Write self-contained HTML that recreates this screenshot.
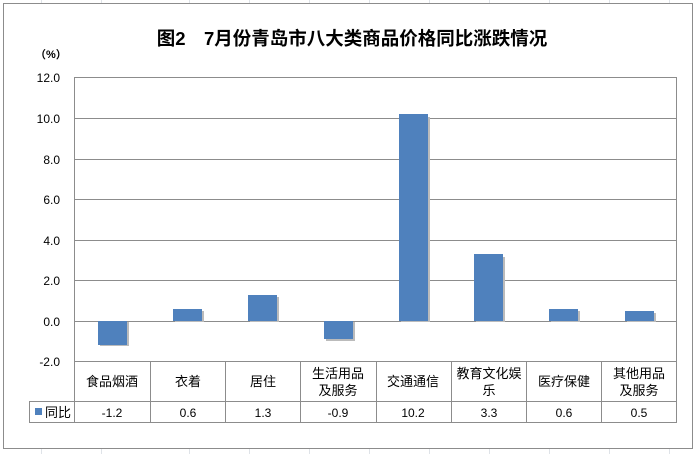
<!DOCTYPE html>
<html><head><meta charset="utf-8"><style>
html,body{margin:0;padding:0;background:#fff;}
svg{display:block;font-family:"Liberation Sans","Noto Sans CJK SC",sans-serif;}
</style></head><body>
<svg width="697" height="454" viewBox="0 0 697 454" xmlns="http://www.w3.org/2000/svg">
<g stroke="#dfe3e8" stroke-width="1">
<line x1="41.5" y1="0" x2="41.5" y2="454"/><line x1="101.5" y1="0" x2="101.5" y2="454"/><line x1="189.5" y1="0" x2="189.5" y2="454"/><line x1="249.5" y1="0" x2="249.5" y2="454"/><line x1="309.5" y1="0" x2="309.5" y2="454"/><line x1="369.5" y1="0" x2="369.5" y2="454"/><line x1="429.5" y1="0" x2="429.5" y2="454"/><line x1="489.5" y1="0" x2="489.5" y2="454"/><line x1="549.5" y1="0" x2="549.5" y2="454"/><line x1="609.5" y1="0" x2="609.5" y2="454"/><line x1="669.5" y1="0" x2="669.5" y2="454"/>
</g>
<rect x="3.5" y="3.5" width="689" height="445" fill="#fff" stroke="#8c8c8c" stroke-width="1"/>
<text x="352" y="45" text-anchor="middle" font-size="18.5" font-weight="bold" fill="#000">图2　7月份青岛市八大类商品价格同比涨跌情况</text>
<text x="35" y="58" font-size="11" font-weight="bold" fill="#000">（%）</text>
<g stroke="#8c8c8c" stroke-width="1" fill="none">
<rect x="74.5" y="77.5" width="602" height="284"/>
<line x1="74" y1="118.5" x2="677" y2="118.5"/>
<line x1="74" y1="159.5" x2="677" y2="159.5"/>
<line x1="74" y1="199.5" x2="677" y2="199.5"/>
<line x1="74" y1="240.5" x2="677" y2="240.5"/>
<line x1="74" y1="280.5" x2="677" y2="280.5"/>
<line x1="74" y1="321.5" x2="677" y2="321.5"/>
<rect x="29.5" y="401.5" width="647" height="21"/>
<line x1="74.5" y1="362" x2="74.5" y2="422"/>
<line x1="150.5" y1="362" x2="150.5" y2="422"/>
<line x1="225.5" y1="362" x2="225.5" y2="422"/>
<line x1="300.5" y1="362" x2="300.5" y2="422"/>
<line x1="376.5" y1="362" x2="376.5" y2="422"/>
<line x1="451.5" y1="362" x2="451.5" y2="422"/>
<line x1="526.5" y1="362" x2="526.5" y2="422"/>
<line x1="601.5" y1="362" x2="601.5" y2="422"/>
<line x1="676.5" y1="362" x2="676.5" y2="422"/>
</g>
<g font-size="12" fill="#000" text-anchor="end">
<text x="60" y="82">12.0</text><text x="60" y="123">10.0</text><text x="60" y="164">8.0</text><text x="60" y="204">6.0</text><text x="60" y="245">4.0</text><text x="60" y="285">2.0</text><text x="60" y="326">0.0</text><text x="60" y="366">-2.0</text>
</g>
<g fill="#bbb">
<rect x="100" y="322" width="29" height="24"/><rect x="175" y="311" width="29" height="11"/><rect x="250" y="297" width="29" height="25"/><rect x="326" y="322" width="29" height="19"/><rect x="401" y="117" width="29" height="205"/><rect x="476" y="257" width="29" height="65"/><rect x="551" y="311" width="29" height="11"/><rect x="627" y="313" width="29" height="9"/>
</g>
<g fill="#4f81bd">
<rect x="98" y="321" width="29" height="24"/>
<rect x="173" y="309" width="29" height="12"/>
<rect x="248" y="295" width="29" height="26"/>
<rect x="324" y="321" width="29" height="18"/>
<rect x="399" y="114" width="29" height="207"/>
<rect x="474" y="254" width="29" height="67"/>
<rect x="549" y="309" width="29" height="12"/>
<rect x="625" y="311" width="29" height="10"/>
</g>
<g font-size="13" fill="#000" text-anchor="middle">
<text x="112" y="386">食品烟酒</text>
<text x="188" y="386">衣着</text>
<text x="263" y="386">居住</text>
<text x="338" y="378">生活用品</text><text x="338" y="395">及服务</text>
<text x="413" y="386">交通通信</text>
<text x="489" y="378">教育文化娱</text><text x="489" y="395">乐</text>
<text x="564" y="386">医疗保健</text>
<text x="639" y="378">其他用品</text><text x="639" y="395">及服务</text>
</g>
<rect x="35" y="408" width="7" height="7" fill="#4f81bd"/>
<text x="45" y="417" font-size="13" fill="#000">同比</text>
<g font-size="12" fill="#000" text-anchor="middle">
<text x="112" y="417">-1.2</text><text x="188" y="417">0.6</text><text x="263" y="417">1.3</text><text x="338" y="417">-0.9</text><text x="413" y="417">10.2</text><text x="489" y="417">3.3</text><text x="564" y="417">0.6</text><text x="639" y="417">0.5</text>
</g>
</svg>
</body></html>
